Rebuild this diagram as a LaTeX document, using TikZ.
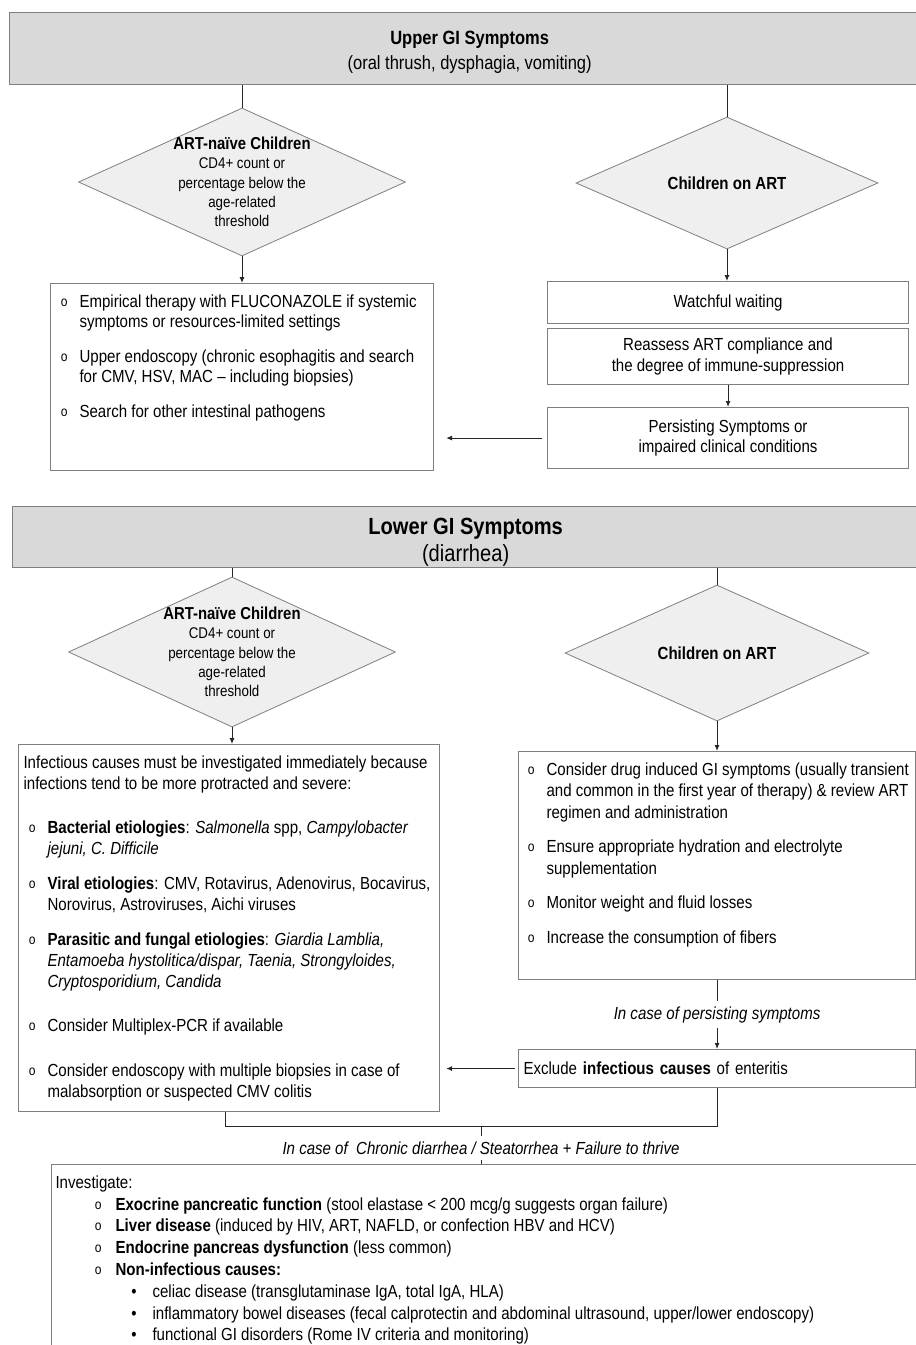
\documentclass[tikz,border=0pt]{standalone}
\usepackage{fontspec}
\setmainfont{Liberation Sans}[FakeStretch=0.86]
\usepackage{enumitem}
\usetikzlibrary{shapes.geometric,arrows.meta}

\definecolor{headfill}{HTML}{D9D9D9}
\definecolor{diafill}{HTML}{EFEFEF}
\definecolor{framecol}{HTML}{7F7F7F}
\definecolor{linecol}{HTML}{262626}

% font sizes (1pt = 1px of the figure)
\newcommand{\txtfont}{\fontsize{17.5}{20.5}\selectfont}
\newcommand{\diafont}{\fontsize{15.5}{19.3}\selectfont}
\newcommand{\obul}{\raisebox{1pt}{\fontsize{14}{14}\selectfont o}}
% box content: height, width, text
\newcommand{\boxtext}[3]{\begin{minipage}[c][#1][t]{#2}\raggedright\vspace*{11pt}#3\end{minipage}}

\setlist[itemize]{label=\obul, leftmargin=24pt, labelsep=12pt, topsep=0pt, partopsep=0pt, parsep=0pt, itemsep=14pt}

\begin{document}
\begin{tikzpicture}[x=1pt, y=-1pt,
  header/.style={draw=framecol, fill=headfill, line width=1.3pt, anchor=north west, align=center, inner sep=0pt},
  decision/.style={diamond, draw=framecol, fill=diafill, line width=0.8pt, inner sep=0pt},
  box/.style={draw=framecol, line width=1.1pt, anchor=north west, inner xsep=5pt, inner ysep=0pt, font=\txtfont},
  plainbox/.style={draw=framecol, line width=1.1pt, anchor=north west, align=center, inner sep=0pt, font=\txtfont},
  link/.style={draw=linecol, line width=1pt},
  arr/.style={link, -{Latex[length=6pt,width=5pt]}},
  note/.style={fill=white, font=\txtfont\itshape, inner xsep=2pt, inner ysep=5.5pt}
]
\useasboundingbox (0,0) rectangle (916,1345);

% Upper GI part
\node[header, minimum width=920pt, minimum height=72pt, font=\fontsize{19.2}{25}\selectfont] (uhead) at (9,12)
  {\rule{0pt}{21pt}\textbf{Upper GI Symptoms}\\(oral thrush, dysphagia, vomiting)};
\node[decision, minimum width=327pt, minimum height=148pt,
  label={[font=\diafont, align=center]center:{{\fontsize{17.3}{19.3}\selectfont\bfseries ART-naïve Children}\\CD4+ count or\\percentage below the\\age-related\\threshold}}] (unaive) at (242,182) {};
\node[decision, minimum width=302pt, minimum height=132pt,
  label={[font=\txtfont\bfseries]center:Children on ART}] (uonart) at (727,183) {};

\node[box] (ubox) at (50,283) {\boxtext{187pt}{373pt}{%
  \begin{itemize}
  \item Empirical therapy with FLUCONAZOLE if systemic\\ symptoms or resources-limited settings
  \item Upper endoscopy (chronic esophagitis and search\\ for CMV, HSV, MAC – including biopsies)
  \item Search for other intestinal pathogens
  \end{itemize}}};

\node[plainbox, minimum width=361pt, minimum height=42pt] (watch) at (547,281) {Watchful waiting};
\node[plainbox, minimum width=361pt, minimum height=56pt] (reassess) at (547,328)
  {Reassess ART compliance and\\the degree of immune-suppression};
\node[plainbox, minimum width=361pt, minimum height=61pt] (persist) at (547,407)
  {Persisting Symptoms or\\impaired clinical conditions};

\draw[link] (unaive.north |- uhead.south) -- (unaive.north);
\draw[link] (uonart.north |- uhead.south) -- (uonart.north);
\draw[arr] (unaive.south) -- (unaive.south |- ubox.north);
\draw[arr] (uonart.south) -- (uonart.south |- watch.north);
\draw[arr] (reassess.south) -- (persist.north);
\draw[arr, shorten <=5pt, shorten >=12pt] (persist.west) -- (persist.west -| ubox.east);

% Lower GI part
\node[header, minimum width=906pt, minimum height=61pt, font=\fontsize{23.4}{27}\selectfont] (lhead) at (12,506)
  {\rule{0pt}{26pt}\textbf{Lower GI Symptoms}\\(diarrhea)};
\node[decision, minimum width=327pt, minimum height=150pt,
  label={[font=\diafont, align=center]center:{{\fontsize{17.3}{19.3}\selectfont\bfseries ART-naïve Children}\\CD4+ count or\\percentage below the\\age-related\\threshold}}] (lnaive) at (232,652) {};
\node[decision, minimum width=304pt, minimum height=136pt,
  label={[font=\txtfont\bfseries]center:Children on ART}] (lonart) at (717,653) {};

\node[box] (lbox) at (18,744) {\boxtext{367pt}{411pt}{%
  \fontsize{17.5}{21}\selectfont
  Infectious causes must be investigated immediately because\\
  infections tend to be more protracted and severe:\par\vspace{23pt}
  \begin{itemize}
  \item \textbf{Bacterial etiologies}: \textit{Salmonella} spp, \textit{Campylobacter}\\ \textit{jejuni, C. Difficile}
  \item \textbf{Viral etiologies}: CMV, Rotavirus, Adenovirus, Bocavirus,\\ Norovirus, Astroviruses, Aichi viruses
  \item \textbf{Parasitic and fungal etiologies}: \textit{Giardia Lamblia,}\\ \textit{Entamoeba hystolitica/dispar, Taenia, Strongyloides,}\\ \textit{Cryptosporidium, Candida}\vspace{9pt}
  \item Consider Multiplex-PCR if available\vspace{10pt}
  \item Consider endoscopy with multiple biopsies in case of\\ malabsorption or suspected CMV colitis
  \end{itemize}}};

\node[box, inner xsep=3pt] (rbox) at (518,751) {\boxtext{228pt}{391pt}{%
  \fontsize{17.5}{21.5}\selectfont
  \begin{itemize}[leftmargin=25pt, itemsep=13pt]
  \item Consider drug induced GI symptoms (usually transient\\ and common in the first year of therapy) \& review ART\\ regimen and administration
  \item Ensure appropriate hydration and electrolyte\\ supplementation
  \item Monitor weight and fluid losses
  \item Increase the consumption of fibers
  \end{itemize}}};

\node[box, minimum width=397pt, minimum height=38pt, text width=387pt, align=left] (exclude) at (518,1049)
  {Exclude \textbf{infectious causes} of enteritis};

\node[box, inner xsep=4pt] (bbox) at (51,1164) {\boxtext{200pt}{862pt}{%
  \fontsize{17.5}{21.8}\selectfont
  Investigate:
  \begin{itemize}[leftmargin=60pt, labelsep=14pt, itemsep=0pt]
  \item \textbf{Exocrine pancreatic function} (stool elastase < 200 mcg/g suggests organ failure)
  \item \textbf{Liver disease} (induced by HIV, ART, NAFLD, or confection HBV and HCV)
  \item \textbf{Endocrine pancreas dysfunction} (less common)
  \item \textbf{Non-infectious causes:}
    \begin{itemize}[label=\textbullet, leftmargin=37pt, labelsep=16pt, itemsep=0pt]
    \item celiac disease (transglutaminase IgA, total IgA, HLA)
    \item inflammatory bowel diseases (fecal calprotectin and abdominal ultrasound, upper/lower endoscopy)
    \item functional GI disorders (Rome IV criteria and monitoring)
    \end{itemize}
  \end{itemize}}};

\draw[link] (lnaive.north |- lhead.south) -- (lnaive.north);
\draw[link] (lonart.north |- lhead.south) -- (lonart.north);
\draw[arr] (lnaive.south) -- (lnaive.south |- lbox.north);
\draw[arr] (lonart.south) -- (lonart.south |- rbox.north);
\draw[arr] (rbox.south) -- (exclude.north) node[note, midway] {In case of persisting symptoms};
\draw[arr, shorten <=3pt, shorten >=6pt] (exclude.west) -- (exclude.west -| lbox.east);
\coordinate (join) at (481,1126);
\draw[link] (exclude.south) |- (join) -| ([xshift=-3.5pt]lbox.south);
\draw[link] (join) -- (join |- bbox.north)
  node[note, midway, yshift=-3pt] {In case of~ Chronic diarrhea / Steatorrhea + Failure to thrive};
\end{tikzpicture}
\end{document}
